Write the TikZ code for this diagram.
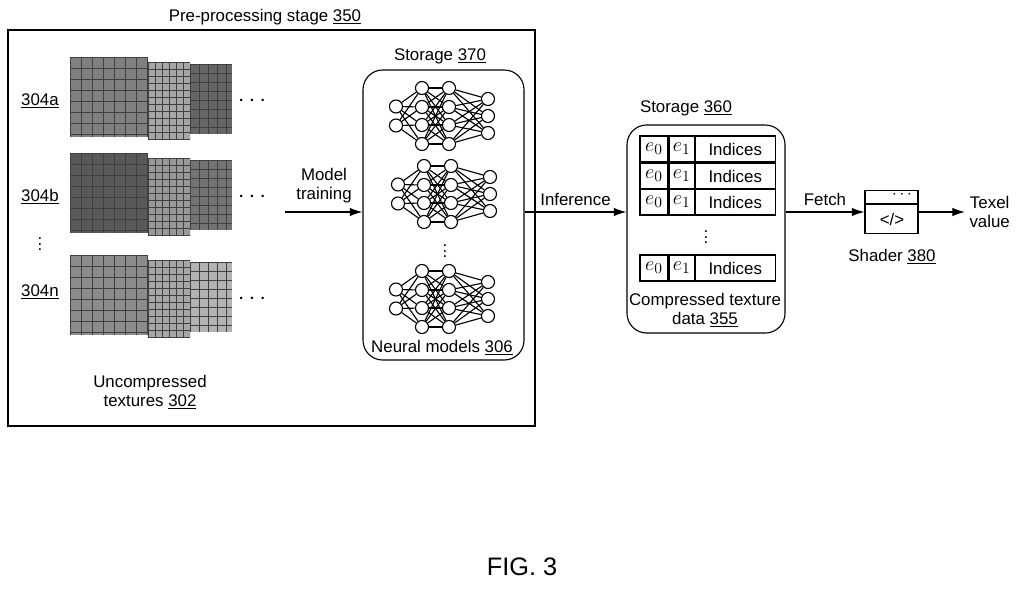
\documentclass[tikz,border=0pt]{standalone}
\usepackage{fontspec}
\setmainfont{Liberation Sans}
\usetikzlibrary{arrows.meta,positioning,backgrounds}
\newcommand{\un}[1]{\underline{#1}}
\tikzset{
  lbl/.style={font=\fontsize{12}{13.5}\selectfont, inner sep=1pt, align=center},
  neuron/.style={circle, draw, thick, fill=white, minimum size=13*0.025cm, inner sep=0pt},
  link/.style={thick},
  flow/.style={thick, -{Latex[length=9pt,width=6pt]}},
  tex/.style={draw=black!75, thin},
}
% one small network, centred at (#2,#3), nodes named #1-<layer>-<k>
\newcommand{\neuralnet}[3]{
  \foreach \k/\dy in {1/-9.5,2/9.5} \node[neuron] (#1-1-\k) at (#2-44,#3+\dy) {};
  \foreach \k/\dy in {1/-28,2/-9,3/9,4/28} \node[neuron] (#1-2-\k) at (#2-18,#3+\dy) {};
  \foreach \k/\dy in {1/-28,2/-9,3/9,4/28} \node[neuron] (#1-3-\k) at (#2+9,#3+\dy) {};
  \foreach \k/\dy in {1/-17,2/0,3/17} \node[neuron] (#1-4-\k) at (#2+48,#3+\dy) {};
  \begin{scope}[on background layer]
  \foreach \a in {1,2} \foreach \b in {1,...,4} \draw[link] (#1-1-\a) -- (#1-2-\b);
  \foreach \a in {1,...,4} \foreach \b in {1,...,4} \draw[link] (#1-2-\a) -- (#1-3-\b);
  \foreach \a in {1,...,4} \foreach \b in {1,2,3} \draw[link] (#1-3-\a) -- (#1-4-\b);
  \end{scope}
}
% one texture swatch: corners (#1,#2)-(#3,#4), shade #5, grid step #6
\newcommand{\swatch}[6]{
  \fill[black!#5] (#1,#2) rectangle (#3,#4);
  \begin{scope}
    \clip (#1,#2) rectangle (#3,#4);
    \foreach \s in {0,#6,...,80} {
      \draw[tex] (#1,#2+\s) -- (#3,#2+\s);
      \draw[tex] (#1+\s,#2) -- (#1+\s,#4);
    }
  \end{scope}
}
\begin{document}
\begin{tikzpicture}[x=0.025cm,y=-0.025cm]
\useasboundingbox (0,0) rectangle (1024,588);

%pre-processing stage
\draw[thick] (8,30) rectangle (535,426);
\node[lbl] (pretitle) at (265,17) {Pre-processing stage \un{350}};

%textures
\foreach \y/\n/\sa/\sb/\sc in {57/a/50/35/60, 153/b/65/40/55, 255/n/45/35/30} {
  \swatch{190}{\y+7}{232}{\y+77}{\sc}{9}
  \swatch{148}{\y+5}{190}{\y+83}{\sb}{7}
  \swatch{70}{\y}{148}{\y+80}{\sa}{11}
  \node[lbl, font=\fontsize{16}{16}\selectfont] (dots-\n) at (252,\y+44) {$\cdots$};
}
\node[lbl] (t304a) at (40,101) {\un{304a}};
\node[lbl] (t304b) at (40,197) {\un{304b}};
\node[lbl, inner sep=0pt] (vdots) at (40,240) {$\vdots$};
\node[lbl] (t304n) at (40,292) {\un{304n}};
\node[lbl] (uncomp) at (150,392) {Uncompressed\\textures \un{302}};

%model training
\coordinate (train-in) at (285,212);
\node[lbl] (train) at (324,186) {Model\\training};

%storage 370
\node[draw, thick, rounded corners=14pt, minimum width=161*0.025cm, minimum height=290*0.025cm] (st370) at (443.5,215) {};
\node[lbl] (st370t) at (440,56) {Storage \un{370}};
\neuralnet{nA}{440}{116}
\neuralnet{nB}{442}{194}
\neuralnet{nC}{440}{299}
\node[lbl, inner sep=0pt] (nndots) at (445,247) {$\vdots$};
\node[lbl] (nnlbl) at (442,348) {Neural models \un{306}};
\draw[flow] (train-in) -- (st370.west |- train-in);

%storage 360
\node[draw, thick, rounded corners=14pt, minimum width=158*0.025cm, minimum height=208*0.025cm] (st360) at (706,229) {};
\node[lbl] (st360t) at (686,108) {Storage \un{360}};
\foreach \r/\y in {1/149, 2/176, 3/202, 4/268} {
  \node[draw, thick, minimum width=28*0.025cm, minimum height=26*0.025cm, inner sep=0pt] (e0-\r) at (654,\y) {\fontsize{15}{15}\selectfont$e_0$};
  \node[draw, thick, minimum width=25*0.025cm, minimum height=26*0.025cm, inner sep=0pt, right=0pt of e0-\r] (e1-\r) {\fontsize{15}{15}\selectfont$e_1$};
  \node[draw, thick, minimum width=80*0.025cm, minimum height=26*0.025cm, inner sep=0pt, right=0pt of e1-\r, lbl] (idx-\r) {Indices};
}
\node[lbl, inner sep=0pt] (tabdots) at (706,233) {$\vdots$};
\node[lbl] (comp) at (705,310) {Compressed texture\\data \un{355}};
\draw[flow] (st370.east |- train-in) -- node[lbl, above=3pt] (inf) {Inference} (st360.west |- train-in);

%shader
\node[draw, thick, minimum width=53*0.025cm, minimum height=43*0.025cm] (shader) at (891.5,212) {};
\draw[thick] ([yshift=-14*0.025cm]shader.north west) -- ([yshift=-14*0.025cm]shader.north east);
\node[lbl, font=\fontsize{12}{12}\selectfont, inner sep=0pt] (shdots) at (902,195) {$\cdots$};
\node[lbl] (code) at (892,219) {</>};
\node[lbl] (shlbl) at (892,257) {Shader \un{380}};
\draw[flow] (st360.east |- shader) -- node[lbl, above=3pt] (fetch) {Fetch} (shader);
\coordinate (texel-in) at (965,212);
\draw[flow] (shader) -- (texel-in);
\node[lbl, right=2pt of texel-in] (texel) {Texel\\value};

\node[font=\fontsize{18}{18}\selectfont] (fig) at (522,567) {FIG. 3};
\end{tikzpicture}
\end{document}
